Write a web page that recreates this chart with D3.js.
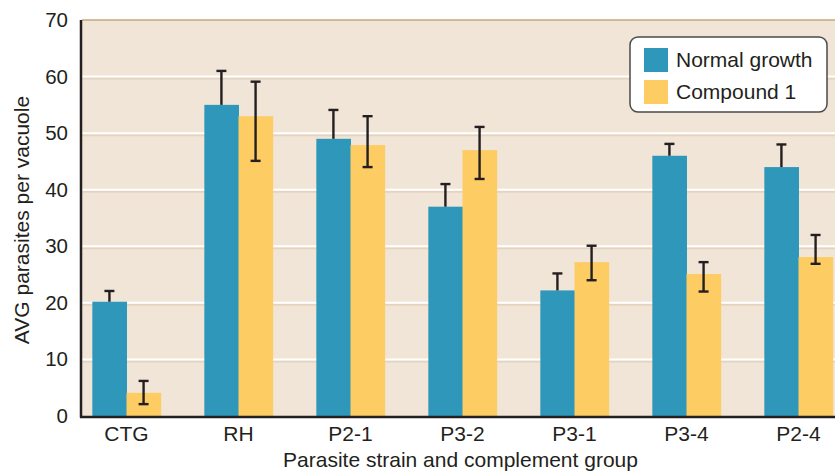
<!DOCTYPE html>
<html>
<head>
<meta charset="utf-8">
<script src="https://cdn.jsdelivr.net/npm/d3@7"></script>
<style>
  html, body { margin: 0; padding: 0; background: #ffffff; }
  svg { display: block; font-family: "Liberation Sans", Arial, Helvetica, sans-serif; }
</style>
</head>
<body>
<svg id="chart" width="835" height="471"></svg>
<script>
// ---- data ----
const categories = ["CTG", "RH", "P2-1", "P3-2", "P3-1", "P3-4", "P2-4"];
const seriesNames = ["Normal growth", "Compound 1"];
const normalGrowth = [20.2, 55, 49, 37, 22.2, 46, 44];
const normalErrHigh = [22.1, 61, 54.1, 41, 25.2, 48.1, 48];
const compound1 = [4.1, 53, 47.9, 47, 27.2, 25.1, 28.1];
const compoundErrHigh = [6.2, 59.1, 53, 51.1, 30.1, 27.2, 32];
const compoundErrLow = [2.1, 45.1, 44, 41.9, 24, 22, 26.9];
const yTicks = [0, 10, 20, 30, 40, 50, 60, 70];

// ---- layout ----
const mLeft = 82, mTop = 20, mBottom = 416, mRight = 835;
const colors = ["#2e97ba", "#fdcc63"];
const ink = "#231f20";

const svg = d3.select("#chart");

const x0 = d3.scaleBand().domain(categories).range([70.5, 854.5]).paddingInner(0.39).paddingOuter(0.195);
const x1 = d3.scaleBand().domain(seriesNames).range([0, x0.bandwidth()]);
const y = d3.scaleLinear().domain([0, 70]).range([mBottom, mTop]);

// plot background
svg.append("rect").attr("x", mLeft).attr("y", mTop).attr("width", mRight - mLeft).attr("height", mBottom - mTop)
  .attr("fill", "#f1e5d8");

// gridlines (white line with tan shadow)
const grid = svg.append("g");
yTicks.filter(t => t > 0 && t < 70).forEach(t => {
  grid.append("line").attr("x1", mLeft).attr("x2", mRight).attr("y1", y(t) + 2).attr("y2", y(t) + 2)
    .attr("stroke", "#e4d3bf").attr("stroke-width", 2);
  grid.append("line").attr("x1", mLeft).attr("x2", mRight).attr("y1", y(t)).attr("y2", y(t))
    .attr("stroke", "#ffffff").attr("stroke-width", 2);
});
// top border
svg.append("line").attr("x1", mLeft).attr("x2", mRight).attr("y1", y(70)).attr("y2", y(70))
  .attr("stroke", "#c9a47f").attr("stroke-width", 1.5);

// bars
const rows = categories.map((c, i) => ({
  cat: c,
  vals: [
    { s: seriesNames[0], v: normalGrowth[i], hi: normalErrHigh[i], lo: null },
    { s: seriesNames[1], v: compound1[i], hi: compoundErrHigh[i], lo: compoundErrLow[i] }
  ]
}));

const groups = svg.append("g").selectAll("g").data(rows).join("g")
  .attr("transform", d => `translate(${x0(d.cat)},0)`);

groups.selectAll("rect").data(d => d.vals).join("rect")
  .attr("x", d => x1(d.s))
  .attr("y", d => y(d.v))
  .attr("width", x1.bandwidth() + 0.5)
  .attr("height", d => y(0) - y(d.v))
  .attr("fill", (d, i) => colors[i]);

// error bars
const capW = 10;
groups.each(function(d) {
  const g = d3.select(this);
  d.vals.forEach(e => {
    const cx = x1(e.s) + x1.bandwidth() / 2;
    const lo = e.lo == null ? e.v : e.lo;
    const eg = g.append("g").attr("stroke", ink).attr("stroke-width", 2.4);
    eg.append("line").attr("x1", cx).attr("x2", cx).attr("y1", y(e.hi)).attr("y2", y(lo));
    eg.append("line").attr("x1", cx - capW / 2).attr("x2", cx + capW / 2).attr("y1", y(e.hi)).attr("y2", y(e.hi));
    if (e.lo != null) {
      eg.append("line").attr("x1", cx - capW / 2).attr("x2", cx + capW / 2).attr("y1", y(e.lo)).attr("y2", y(e.lo));
    }
  });
});

// axes lines
svg.append("line").attr("x1", mLeft - 1).attr("x2", mLeft - 1).attr("y1", mTop).attr("y2", mBottom + 1.5)
  .attr("stroke", ink).attr("stroke-width", 2.5);
svg.append("line").attr("x1", mLeft - 2).attr("x2", mRight).attr("y1", mBottom + 1).attr("y2", mBottom + 1)
  .attr("stroke", ink).attr("stroke-width", 2.5);

// y axis labels
const yAxis = d3.axisLeft(y).tickValues(yTicks).tickSize(0).tickPadding(14);
const yg = svg.append("g").attr("transform", `translate(${mLeft},0)`).call(yAxis);
yg.select(".domain").remove();
yg.selectAll("text").attr("font-size", 20.5).attr("fill", ink).attr("font-family", "Liberation Sans, Arial, sans-serif");

// x axis labels
const xAxis = d3.axisBottom(x0).tickSize(0).tickPadding(10);
const xg = svg.append("g").attr("transform", `translate(0,${mBottom})`).call(xAxis);
xg.select(".domain").remove();
xg.selectAll("text").attr("font-size", 21).attr("fill", ink).attr("font-family", "Liberation Sans, Arial, sans-serif");

// axis titles
svg.append("text").attr("x", (mLeft + mRight) / 2 + 2).attr("y", 467).attr("text-anchor", "middle")
  .attr("font-size", 21).attr("fill", ink).text("Parasite strain and complement group");
svg.append("text").attr("transform", `translate(29,${(mTop + mBottom) / 2 + 2}) rotate(-90)`).attr("text-anchor", "middle")
  .attr("font-size", 21).attr("fill", ink).text("AVG parasites per vacuole");

// legend
const lg = svg.append("g");
lg.append("rect").attr("x", 630).attr("y", 37).attr("width", 197).attr("height", 75).attr("rx", 8)
  .attr("fill", "#ffffff").attr("stroke", "#4a4a4a").attr("stroke-width", 1.5);
seriesNames.forEach((s, i) => {
  lg.append("rect").attr("x", 644).attr("y", 48 + i * 32).attr("width", 24).attr("height", 24).attr("fill", colors[i]);
  lg.append("text").attr("x", 676).attr("y", 67 + i * 32).attr("font-size", 21).attr("fill", ink).text(s);
});
</script>
</body>
</html>
